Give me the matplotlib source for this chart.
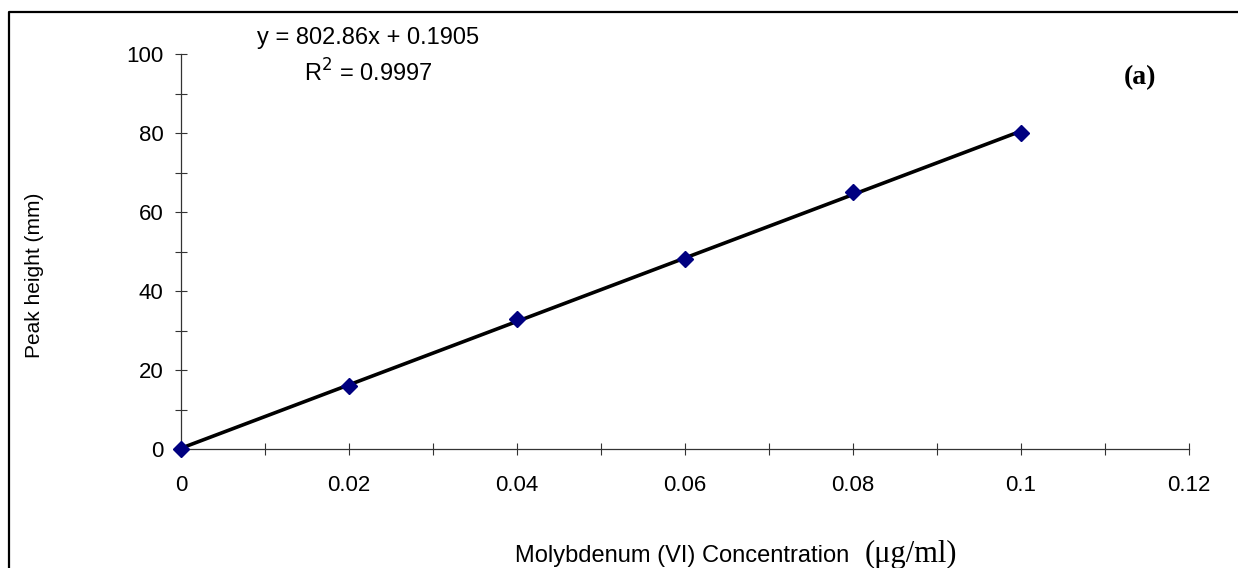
import matplotlib.pyplot as plt
from matplotlib.lines import Line2D
from matplotlib.ticker import MultipleLocator
import numpy as np

# calibration data
conc = [0, 0.02, 0.04, 0.06, 0.08, 0.1]
height = [0, 16, 33, 48, 65, 80]
slope = 802.86
intercept = 0.1905
r2 = 0.9997

W, H = 1238, 568
fig = plt.figure(figsize=(W / 100, H / 100), dpi=100)
plt.rcParams["font.family"] = ["Liberation Sans", "DejaVu Sans"]

def fx(px):
    return px / W

def fy(py):
    return 1 - py / H

ax = fig.add_axes([fx(181), fy(449), fx(1189) - fx(181), fy(54) - fy(449)])

fit_x = np.array([min(conc), max(conc)])
ax.plot(fit_x, slope * fit_x + intercept, color="black", lw=2.6, zorder=2)
ax.plot(conc, height, ls="none", marker="D", ms=8, color="#000080", zorder=3,
        clip_on=False)

ax.set_xlim(0, 0.12)
ax.set_ylim(0, 100)
ax.xaxis.set_major_locator(MultipleLocator(0.02))
ax.xaxis.set_minor_locator(MultipleLocator(0.01))
ax.yaxis.set_major_locator(MultipleLocator(20))
ax.yaxis.set_minor_locator(MultipleLocator(10))
ax.set_xticklabels([f"{v:g}" for v in ax.get_xticks()])

for s in ["top", "right"]:
    ax.spines[s].set_visible(False)
for s in ["left", "bottom"]:
    ax.spines[s].set_linewidth(0.9)
    ax.spines[s].set_color("#333333")

ax.tick_params(which="both", direction="inout", length=9, width=0.8, color="#333333",
               labelsize=16)
ax.tick_params(axis="x", which="major", pad=14)
ax.tick_params(axis="y", which="major", pad=8)

# equation and R2
fig.text(fx(368), fy(38), f"y = {slope}x + {intercept}", fontsize=17,
         ha="center", va="center")
fig.text(fx(368), fy(73), f"R$^2$ = {r2}", fontsize=17, ha="center", va="center")

fig.text(fx(1140), fy(78), "(a)", fontsize=20, fontweight="bold",
         family="Liberation Serif", ha="center", va="center")

# axis titles
fig.text(fx(35), fy(275), "Peak height (mm)", rotation=90, fontsize=15,
         ha="center", va="center")
fig.text(fx(515), fy(562), "Molybdenum (VI) Concentration", fontsize=17,
         ha="left", va="baseline")
fig.text(fx(957), fy(562), "(\u03bcg/ml)", fontsize=22, family="Liberation Serif",
         ha="right", va="baseline")

# outer chart border (only left and top visible)
fig.add_artist(Line2D([fx(9), fx(9), 1.01], [-0.01, fy(12), fy(12)],
                      color="black", lw=1.6, transform=fig.transFigure))

fig.savefig("out.png", dpi=100)
